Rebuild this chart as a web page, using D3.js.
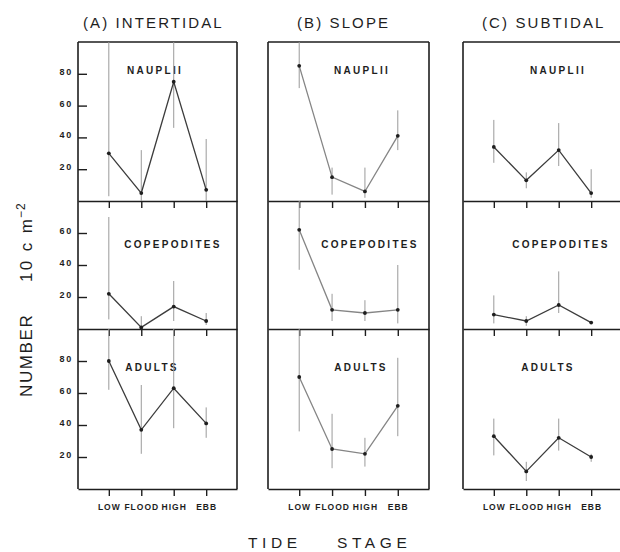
<!DOCTYPE html>
<html><head><meta charset="utf-8">
<script src="https://cdn.jsdelivr.net/npm/d3@7"></script>
<style>body{margin:0;background:#fff}</style>
</head><body><svg id="c" width="620" height="552"></svg>
<script>
// ---- data ----
const stages = ["LOW", "FLOOD", "HIGH", "EBB"];
const sites = ["(A) INTERTIDAL", "(B) SLOPE", "(C) SUBTIDAL"];
const groups = ["NAUPLII", "COPEPODITES", "ADULTS"];
const yTicksNauplii = [20, 40, 60, 80];
const yTicksCopepodites = [20, 40, 60];
const yTicksAdults = [20, 40, 60, 80];
const yMaxNauplii = 100, yMaxCopepodites = 80, yMaxAdults = 100;

// per site: A, B, C ; per stage: LOW, FLOOD, HIGH, EBB
const naupliiMean = [[30, 5, 75, 7], [85, 15, 6, 41], [34, 13, 32, 5]];
const naupliiLo   = [[3, 0, 46, 0], [71, 4, 2, 32], [24, 8, 22, 2]];
const naupliiHi   = [[100, 32, 100, 39], [100, 21, 21, 57], [51, 18, 49, 20]];

const copepoditesMean = [[22, 1, 14, 5], [62, 12, 10, 12], [9, 5, 15, 4]];
const copepoditesLo   = [[6, 0, 5, 2.5], [37, 5, 5, 3.5], [3.5, 2, 10, 4]];
const copepoditesHi   = [[70, 8, 30, 10], [80, 22, 18, 40], [21, 8, 36, 4]];

const adultsMean = [[80, 37, 63, 41], [70, 25, 22, 52], [33, 11, 32, 20]];
const adultsLo   = [[62, 22, 38, 32], [36, 13, 14, 33], [21, 5, 24, 17]];
const adultsHi   = [[100, 65, 100, 51], [100, 47, 32, 82], [44, 17, 44, 22]];

const rows = [
  {name: groups[0], max: yMaxNauplii, ticks: yTicksNauplii, mean: naupliiMean, lo: naupliiLo, hi: naupliiHi},
  {name: groups[1], max: yMaxCopepodites, ticks: yTicksCopepodites, mean: copepoditesMean, lo: copepoditesLo, hi: copepoditesHi},
  {name: groups[2], max: yMaxAdults, ticks: yTicksAdults, mean: adultsMean, lo: adultsLo, hi: adultsHi}
];

// ---- layout ----
const colX = [[78, 237], [268, 429], [463, 622]];
const rowY = [[42, 201], [201, 329], [329, 489]];
const labelX = [[77, 95, 74], [94, 102, 93], [95, 98, 85]]; // [site][row] center offset
const labelDY = [28, 43, 38];
const lineColor = ["#3c3c3c", "#858585", "#3c3c3c"];
const ink = "#1e1e1e";

const svg = d3.select("#c");
svg.append("rect").attr("width", 620).attr("height", 552).attr("fill", "#fff");

sites.forEach((site, si) => {
  const [x0, x1] = colX[si];
  const x = d3.scalePoint().domain(stages).range([x0, x1]).padding(0.95);
  const g = svg.append("g");

  // column title
  const titleX = [83, 297, 482][si];
  svg.append("text").attr("x", titleX).attr("y", 28)
    .attr("font-family", "Liberation Sans, Arial, sans-serif")
    .attr("font-size", 15).attr("letter-spacing", 2.1).attr("fill", ink)
    .text(site);

  // frame: top, left, right
  g.append("line").attr("x1", x0).attr("x2", x1).attr("y1", rowY[0][0]).attr("y2", rowY[0][0])
    .attr("stroke", ink).attr("stroke-width", 1.6);
  g.append("line").attr("x1", x0).attr("x2", x0).attr("y1", rowY[0][0]).attr("y2", rowY[2][1])
    .attr("stroke", ink).attr("stroke-width", 1.6);
  g.append("line").attr("x1", x1).attr("x2", x1).attr("y1", rowY[0][0]).attr("y2", rowY[2][1])
    .attr("stroke", ink).attr("stroke-width", 1.6);

  rows.forEach((row, ri) => {
    const [yt, yb] = rowY[ri];
    const y = d3.scaleLinear().domain([0, row.max]).range([yb, yt]).clamp(true);

    // bottom axis with downward ticks
    const ax = d3.axisBottom(x).tickSizeInner(7).tickSizeOuter(0).tickPadding(7.5);
    const axg = g.append("g").attr("transform", `translate(0,${yb})`).call(ax);
    axg.select(".domain").attr("stroke", ink).attr("stroke-width", 1.6);
    axg.selectAll(".tick line").attr("stroke", ink).attr("stroke-width", 1.4);
    if (ri === 2) {
      axg.selectAll(".tick text").attr("font-family", "Liberation Sans, Arial, sans-serif")
        .attr("font-weight", "bold").attr("font-size", 8.5).attr("letter-spacing", 1)
        .attr("fill", ink);
    } else {
      axg.selectAll(".tick text").remove();
    }

    // left axis on first column only
    if (si === 0) {
      const ay = d3.axisLeft(y).tickValues(row.ticks).tickSizeInner(-9).tickSizeOuter(0).tickPadding(5);
      const ayg = g.append("g").attr("transform", `translate(${x0},0)`).call(ay);
      ayg.select(".domain").remove();
      ayg.selectAll(".tick line").attr("stroke", ink).attr("stroke-width", 1.4);
      ayg.selectAll(".tick text").attr("font-family", "Liberation Sans, Arial, sans-serif")
        .attr("font-weight", "bold").attr("font-size", 9).attr("letter-spacing", 1.8)
        .attr("dy", "0.05em").attr("fill", ink);
    }

    // group label
    g.append("text").attr("x", x0 + labelX[si][ri]).attr("y", yt + labelDY[ri])
      .attr("text-anchor", "middle").attr("dominant-baseline", "central")
      .attr("font-family", "Liberation Sans, Arial, sans-serif")
      .attr("font-weight", "bold").attr("font-size", 10).attr("letter-spacing", 2.3)
      .attr("fill", ink).text(row.name);

    const pts = stages.map((s, k) => ({s, m: row.mean[si][k], lo: row.lo[si][k], hi: row.hi[si][k]}));

    // error bars
    g.selectAll(null).data(pts).enter().append("line")
      .attr("x1", d => x(d.s)).attr("x2", d => x(d.s))
      .attr("y1", d => y(d.lo)).attr("y2", d => y(d.hi))
      .attr("stroke", "#9a9a9a").attr("stroke-width", 1);

    // mean line
    g.append("path").datum(pts)
      .attr("d", d3.line().x(d => x(d.s)).y(d => y(d.m)))
      .attr("fill", "none").attr("stroke", lineColor[si]).attr("stroke-width", 1.3);

    // points
    g.selectAll(null).data(pts).enter().append("circle")
      .attr("cx", d => x(d.s)).attr("cy", d => y(d.m)).attr("r", 1.9).attr("fill", ink);
  });
});

// axis titles
const yl = svg.append("g").attr("font-family", "Liberation Sans, Arial, sans-serif").attr("fill", ink);
yl.append("text").attr("transform", "translate(32,397) rotate(-90)")
  .attr("font-size", 17).attr("letter-spacing", 1.6).text("NUMBER");
yl.append("text").attr("transform", "translate(32,282) rotate(-90)")
  .attr("font-size", 17).attr("letter-spacing", 2.4).text("10 c m");
yl.append("text").attr("transform", "translate(25,218) rotate(-90)")
  .attr("font-size", 12).attr("letter-spacing", 1).text("\u22122");

const xl = svg.append("g").attr("font-family", "Liberation Sans, Arial, sans-serif").attr("fill", ink)
  .attr("font-size", 15.5).attr("letter-spacing", 4.6);
xl.append("text").attr("x", 248).attr("y", 547.5).text("TIDE");
xl.append("text").attr("x", 337).attr("y", 547.5).text("STAGE");
</script>
</body></html>
